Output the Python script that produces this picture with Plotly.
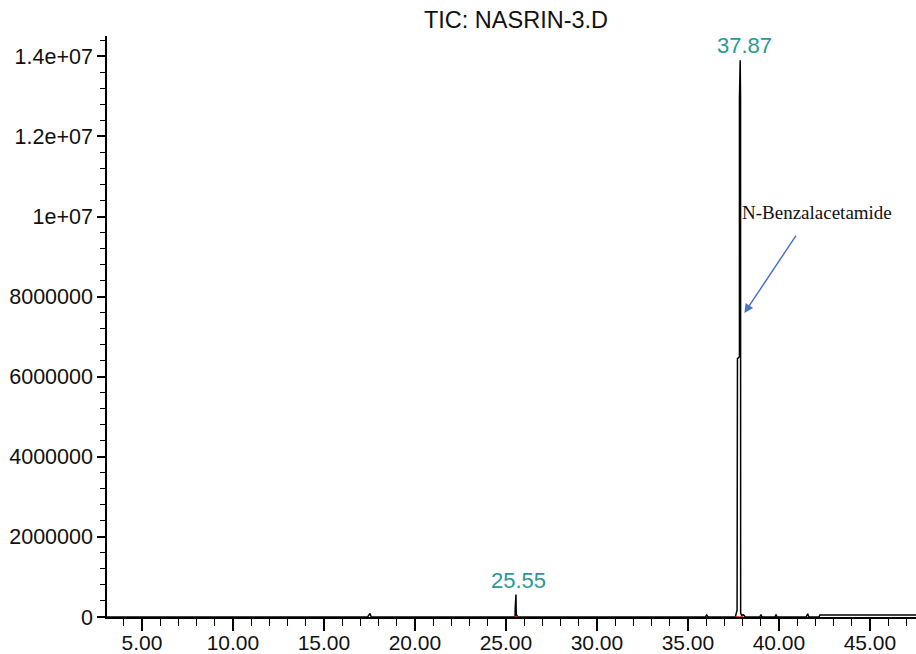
import plotly.graph_objects as go

# Retention time (min) and total ion current abundance
rt_min = [3.08, 5.0, 10.0, 15.0, 17.40, 17.50, 17.53, 17.60, 20.0, 25.40, 25.50,
          25.51, 25.55, 25.56, 25.57, 25.65, 30.0, 35.95, 36.03, 36.10, 37.60,
          37.70, 37.72, 37.72, 37.83, 37.83, 37.87, 37.89, 37.89, 37.895, 37.95,
          38.02, 38.08, 38.15, 38.95, 39.01, 39.07, 39.78, 39.84, 39.90, 41.50,
          41.58, 41.65, 42.20, 42.25, 45.0, 47.53]
tic_abundance = [0, 0, 0, 0, 0, 70000, 90000, 0, 0, 0, 0,
                 220000, 560000, 220000, 60000, 0, 0, 0, 50000, 0, 0,
                 170000, 6450000, 6450000, 6500000, 12950000, 13900000, 12950000, 6450000, 100000, 40000,
                 60000, 40000, 0, 0, 60000, 0, 0, 60000, 0, 0,
                 80000, 0, 0, 50000, 50000, 50000]

# Integration markers
mark_rt = [25.55, 37.70, 37.93]
mark_ab = [0, 0, 0]

# Peak labels
peak_rt = [37.87, 25.55]
peak_lbl = ["37.87", "25.55"]
peak_ab = [13900000, 560000]
peak_shift = [4, 3]

y_tickvals = [0, 2000000, 4000000, 6000000, 8000000, 10000000, 12000000, 14000000]
y_ticktext = ["0", "2000000", "4000000", "6000000", "8000000", "1e+07", "1.2e+07", "1.4e+07"]

title_text = "TIC: NASRIN-3.D"
compound = "N-Benzalacetamide"

fig = go.Figure()
fig.add_trace(go.Scatter(x=rt_min, y=tic_abundance, mode="lines",
                         line=dict(color="black", width=1.5), hoverinfo="skip",
                         showlegend=False))
fig.add_trace(go.Scatter(x=mark_rt, y=mark_ab, mode="markers",
                         marker=dict(color="#d11", size=3, symbol="line-ew-open",
                                     line=dict(color="#d11", width=1.5)),
                         showlegend=False, hoverinfo="skip"))

teal = "#2b9898"
for rt, lbl, ab, sh in zip(peak_rt, peak_lbl, peak_ab, peak_shift):
    fig.add_annotation(x=rt, y=ab, text=lbl, showarrow=False, yanchor="bottom",
                       xshift=sh, font=dict(family="Liberation Sans, Arial", size=22, color=teal))

fig.add_annotation(x=37.97, y=10090000, text=compound, showarrow=False, xanchor="left",
                   xshift=-2, font=dict(family="Liberation Serif, Times New Roman", size=19, color="#111"))
fig.add_annotation(x=38.1, y=7590000, ax=40.99, ay=9560000, axref="x", ayref="y",
                   text="", showarrow=True, arrowhead=2, arrowsize=1.2, arrowwidth=1.5,
                   arrowcolor="#4a74c9")

fig.update_layout(
    width=916, height=654,
    margin=dict(l=107, r=0, t=36, b=37, autoexpand=False),
    paper_bgcolor="white", plot_bgcolor="white",
    font=dict(family="Liberation Sans, Arial", size=21.5, color="#111"),
    title=dict(text=title_text, x=(516 - 107) / 809, xref="paper", xanchor="center",
               y=1 - 20 / 654, yref="container", yanchor="middle",
               font=dict(family="Liberation Sans, Arial", size=23.5, color="#111")),
    xaxis=dict(range=[3.08, 47.53], tickmode="linear", tick0=5, dtick=5, tickformat=".2f",
               showgrid=False, zeroline=False, showline=True, linecolor="black", linewidth=1.5,
               ticks="outside", ticklen=12, tickwidth=1.5, tickcolor="black",
               ticklabelstandoff=-6, tickfont=dict(size=21),
               minor=dict(ticks="outside", ticklen=7, tick0=0, dtick=1, tickcolor="black",
                          tickwidth=1.2, showgrid=False),
               automargin=False, fixedrange=True),
    yaxis=dict(range=[0, 14507000], tickmode="array", tickvals=y_tickvals, ticktext=y_ticktext,
               showgrid=False, zeroline=False, showline=True, linecolor="black", linewidth=1.5,
               ticks="outside", ticklen=8, tickwidth=1.5, tickcolor="black",
               minor=dict(ticks="outside", ticklen=5, tick0=0, dtick=400000, tickcolor="black",
                          tickwidth=1.2, showgrid=False),
               automargin=False, fixedrange=True),
)

fig.write_html("out.html", config={"displayModeBar": False},
               post_script="document.body.style.margin='0';document.body.style.overflow='hidden';")
